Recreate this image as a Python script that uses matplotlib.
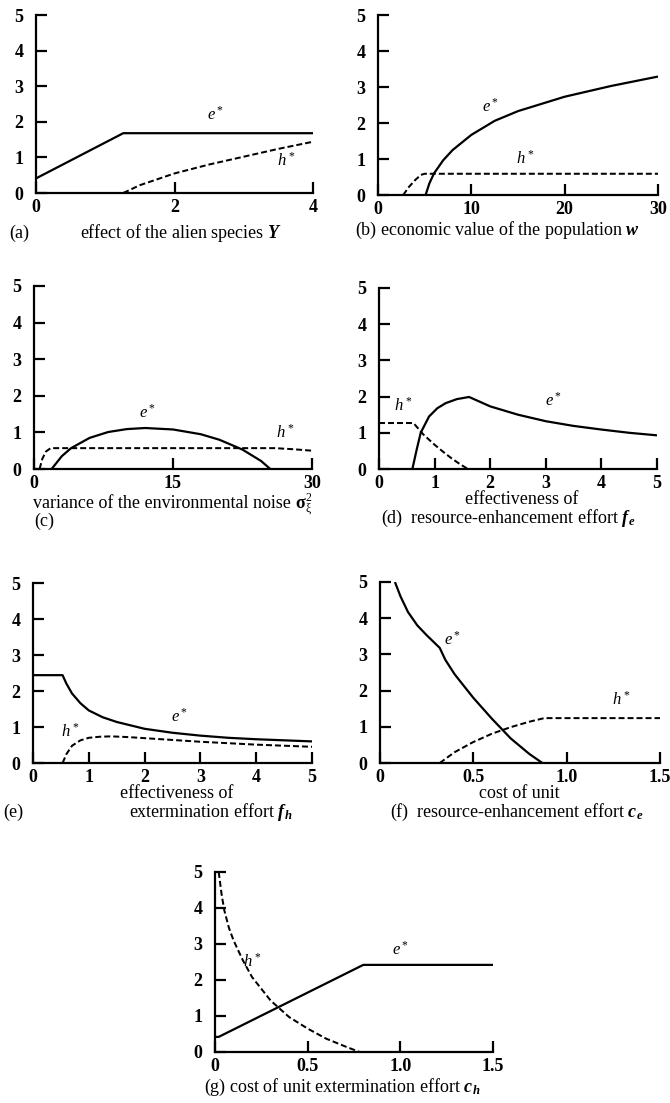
import numpy as np
import matplotlib
matplotlib.use('Agg')
import matplotlib.pyplot as plt

#Fonts
plt.rcParams['font.family'] = ['Liberation Serif', 'DejaVu Serif']
plt.rcParams['mathtext.fontset'] = 'custom'
plt.rcParams['mathtext.rm'] = 'Liberation Serif'
plt.rcParams['mathtext.it'] = 'Liberation Serif:italic'
plt.rcParams['mathtext.bf'] = 'Liberation Serif:italic:bold'

#Data
#--------------------------------
# (a) effect of the alien species Y
a_e_x = [0, 1.26, 4.0]
a_e_y = [0.41, 1.68, 1.68]
a_h_x = [1.26, 1.5, 2.0, 2.5, 3.0, 3.5, 4.0]
a_h_y = [0.0, 0.22, 0.55, 0.80, 1.02, 1.24, 1.44]

# (b) economic value of the population w
b_e_x = [5.1, 5.5, 6.0, 7.0, 8.0, 10.0, 12.5, 15.0, 20.0, 25.0, 30.0]
b_e_y = [0.0, 0.32, 0.60, 0.97, 1.25, 1.67, 2.06, 2.33, 2.73, 3.03, 3.29]
b_h_x = [2.7, 3.3, 4.0, 4.6, 5.0, 30.0]
b_h_y = [0.0, 0.22, 0.42, 0.56, 0.59, 0.59]

# (c) variance of the environmental noise
c_e_x = [1.9, 3.0, 4.0, 6.0, 8.0, 10.0, 12.0, 15.0, 18.0, 20.0, 22.5, 24.5, 25.5]
c_e_y = [0.0, 0.35, 0.57, 0.85, 1.01, 1.09, 1.12, 1.08, 0.95, 0.80, 0.53, 0.22, 0.0]
c_h_x = [0.6, 0.9, 1.3, 1.8, 26.0, 28.0, 30.0]
c_h_y = [0.0, 0.28, 0.48, 0.57, 0.57, 0.54, 0.50]

# (d) effectiveness of resource-enhancement effort f_e
d_e_x = [0.6, 0.68, 0.75, 0.9, 1.05, 1.2, 1.4, 1.62, 2.0, 2.5, 3.0, 3.5, 4.0, 4.5, 5.0]
d_e_y = [0.0, 0.55, 1.0, 1.45, 1.68, 1.82, 1.93, 1.99, 1.73, 1.50, 1.32, 1.19, 1.09, 1.00, 0.93]
d_h_x = [0.0, 0.62, 0.8, 1.0, 1.15, 1.3, 1.45, 1.6]
d_h_y = [1.27, 1.27, 0.95, 0.67, 0.48, 0.30, 0.14, 0.0]

# (e) effectiveness of extermination effort f_h
e_e_x = [0.0, 0.53, 0.6, 0.7, 0.85, 1.0, 1.25, 1.5, 2.0, 2.5, 3.0, 3.5, 4.0, 4.5, 5.0]
e_e_y = [2.44, 2.44, 2.20, 1.93, 1.66, 1.46, 1.27, 1.14, 0.95, 0.84, 0.76, 0.70, 0.66, 0.63, 0.60]
e_h_x = [0.53, 0.6, 0.7, 0.85, 1.0, 1.2, 1.4, 1.7, 2.0, 2.5, 3.0, 3.5, 4.0, 4.5, 5.0]
e_h_y = [0.0, 0.25, 0.48, 0.63, 0.70, 0.73, 0.74, 0.72, 0.69, 0.64, 0.59, 0.55, 0.51, 0.48, 0.45]

# (f) cost of unit resource-enhancement effort c_e
f_e_x = [0.08, 0.11, 0.15, 0.2, 0.25, 0.32, 0.35, 0.4, 0.5, 0.6, 0.7, 0.8, 0.87]
f_e_y = [5.0, 4.6, 4.17, 3.8, 3.53, 3.18, 2.85, 2.45, 1.80, 1.22, 0.68, 0.25, 0.0]
f_h_x = [0.32, 0.4, 0.5, 0.6, 0.7, 0.8, 0.88, 1.5]
f_h_y = [0.0, 0.30, 0.58, 0.81, 0.99, 1.14, 1.24, 1.24]

# (g) cost of unit extermination effort c_h
g_e_x = [0.0, 0.02, 0.8, 1.5]
g_e_y = [0.42, 0.42, 2.42, 2.42]
g_h_x = [0.02, 0.035, 0.05, 0.075, 0.1, 0.15, 0.2, 0.3, 0.4, 0.5, 0.6, 0.7, 0.78]
g_h_y = [5.0, 4.4, 3.94, 3.45, 3.1, 2.55, 2.08, 1.43, 0.97, 0.65, 0.37, 0.16, 0.0]

xticks = {
    'a': [0, 2, 4], 'b': [0, 10, 20, 30], 'c': [0, 15, 30],
    'd': [0, 1, 2, 3, 4, 5], 'e': [0, 1, 2, 3, 4, 5],
    'f': [0, 0.5, 1.0, 1.5], 'g': [0, 0.5, 1.0, 1.5],
}
xticklabels = {
    'a': ['0', '2', '4'], 'b': ['0', '10', '20', '30'], 'c': ['0', '15', '30'],
    'd': ['0', '1', '2', '3', '4', '5'], 'e': ['0', '1', '2', '3', '4', '5'],
    'f': ['0', '0.5', '1.0', '1.5'], 'g': ['0', '0.5', '1.0', '1.5'],
}
yticks = [0, 1, 2, 3, 4, 5]
#--------------------------------

#Figure settings
W = 670; H = 1103
fig = plt.figure(figsize=(W/100, H/100), dpi=100)
size_ticks = 13; size_label = 13; size_ann = 12
line_w = 1.6

def px_axes(x0, x1, ytop, ybot):
    return fig.add_axes([x0/W, (H-ybot)/H, (x1-x0)/W, (ybot-ytop)/H])

# pixel boxes: left, right, top(5), bottom(0)
boxes = {
    'a': (36, 313, 15, 193), 'b': (378, 658, 15, 195),
    'c': (34, 312, 286, 469), 'd': (379, 657, 288, 469),
    'e': (33, 312, 583, 763), 'f': (380, 660, 582, 763),
    'g': (215, 493, 872, 1052),
}
xlims = {'a': 4, 'b': 30, 'c': 30, 'd': 5, 'e': 5, 'f': 1.5, 'g': 1.5}

series = {
    'a': (a_e_x, a_e_y, a_h_x, a_h_y), 'b': (b_e_x, b_e_y, b_h_x, b_h_y),
    'c': (c_e_x, c_e_y, c_h_x, c_h_y), 'd': (d_e_x, d_e_y, d_h_x, d_h_y),
    'e': (e_e_x, e_e_y, e_h_x, e_h_y), 'f': (f_e_x, f_e_y, f_h_x, f_h_y),
    'g': (g_e_x, g_e_y, g_h_x, g_h_y),
}
# annotation positions (data coords): e*, h*
ann = {
    'a': ((2.59, 1.95), (3.62, 0.65)), 'b': ((12.0, 2.2), (15.8, 0.75)),
    'c': ((12.3, 1.3), (27.1, 0.75)), 'd': ((3.14, 1.65), (0.43, 1.5)),
    'e': ((2.63, 1.05), (0.66, 0.63)), 'f': ((0.39, 3.15), (1.29, 1.5)),
    'g': ((1.0, 2.6), (0.2, 2.25)),
}

for k, box in boxes.items():
    ax = px_axes(*box)
    ex, ey, hx, hy = series[k]
    ax.plot(ex, ey, color='black', lw=line_w, solid_capstyle='butt')
    ax.plot(hx, hy, color='black', lw=line_w*0.9, linestyle=(0, (3, 1.5)))
    ax.set_xlim(0, xlims[k]); ax.set_ylim(0, 5)
    ax.spines['top'].set_visible(False); ax.spines['right'].set_visible(False)
    for s in ['left', 'bottom']:
        ax.spines[s].set_linewidth(1.6)
    ax.set_xticks(xticks[k]); ax.set_xticklabels(xticklabels[k])
    ax.set_yticks(yticks)
    ax.tick_params(direction='in', length=8, width=1.6, labelsize=size_ticks)
    ax.tick_params(axis='x', pad=4)
    ax.tick_params(axis='y', pad=9)
    for lab in ax.get_xticklabels() + ax.get_yticklabels():
        lab.set_fontweight('bold')
    ax.patch.set_alpha(0)
    (exa, eya), (hxa, hya) = ann[k]
    ax.text(exa, eya, r'$e^*$', fontsize=size_ann, ha='center', va='bottom')
    ax.text(hxa, hya, r'$h^*$', fontsize=size_ann, ha='center', va='bottom')

def ftext(x, y, s, size=size_label, **kw):
    return fig.text(x/W, 1-y/H, s, fontsize=size, va='center', **kw)

#Labels
ftext(19, 233, '(a)', ha='center')
ftext(181, 233, r'effect of the alien species $\mathbf{Y}$', ha='center')
ftext(497, 230, r'(b) economic value of the population $\mathbf{w}$', ha='center')

# (c) label: plain text, then bold sigma with small sub/superscripts
t_c = ftext(162, 503, 'variance of the environmental noise', ha='center')
rend = fig.canvas.get_renderer()
x_end = t_c.get_window_extent(rend).x1
t_s = fig.text((x_end + 4)/W, 1-503/H, 'σ', fontsize=size_label, fontweight='bold', va='center', ha='left')
x_sig = t_s.get_window_extent(rend).x1
fig.text((x_sig + 1)/W, 1-498/H, '2', fontsize=8.5, va='center', ha='left')
fig.text((x_sig + 1)/W, 1-509/H, 'ξ', fontsize=8.5, va='center', ha='left')
ftext(34, 521, '(c)', ha='left')

ftext(522, 500, 'effectiveness of', ha='center')
ftext(508, 518, r'(d)  resource-enhancement effort $\mathbf{f_e}$', ha='center')
ftext(177, 794, 'effectiveness of', ha='center')
ftext(13, 812, '(e)', ha='center')
ftext(211, 812, r'extermination effort $\mathbf{f_h}$', ha='center')
ftext(519, 794, 'cost of unit', ha='center')
ftext(517, 812, r'(f)  resource-enhancement effort $\mathbf{c_e}$', ha='center')
ftext(342, 1087, r'(g) cost of unit extermination effort $\mathbf{c_h}$', ha='center')

plt.savefig('out.png', dpi=100)
